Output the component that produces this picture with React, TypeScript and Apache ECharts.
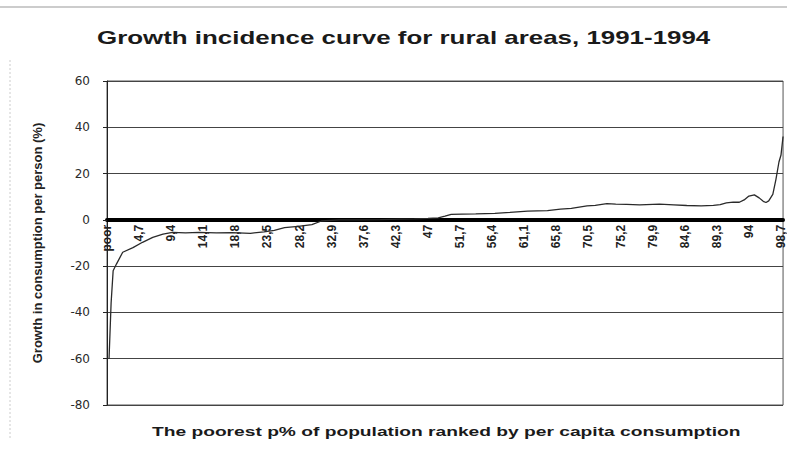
import React, { useEffect, useRef } from "react";
import * as echarts from "echarts";

const titleText = "Growth incidence curve for rural areas, 1991-1994";
const yAxisTitle = "Growth in consumption per person (%)";
const xAxisTitle = "The poorest p% of population ranked by per capita consumption";

// percentile of population (x) and growth in consumption (%) (y)
const percentiles = [
  0.3, 0.6, 0.9, 1.4, 2.3, 3.8, 5.2, 6.7, 8.2, 9.6, 11.5, 13.5, 16, 18.3, 21, 23,
  24.5, 26, 28, 30, 31.4, 34, 37, 40, 43, 45, 47, 48.5, 49.5, 50.4, 52, 54, 56.8,
  59, 61.6, 63, 64.5, 66.4, 68, 70.3, 71.5, 73.2, 74.5, 76.1, 78, 80.9, 83, 84.9,
  87, 88.8, 89.8, 90.7, 91.7, 92.6, 93.3, 94.0, 94.8, 95.5, 96.1, 96.5, 96.9,
  97.5, 97.96, 98.4, 98.7, 99,
];
const growth = [
  -60, -36, -22, -19, -14, -12, -9.7, -7.6, -6.2, -5.4, -5.6, -5.4, -5.6, -5.5,
  -5.8, -5.2, -4.5, -3.4, -2.8, -2.1, -0.5, 0, 0, 0.1, 0.3, 0.4, 0.6, 0.9, 1.6,
  2.4, 2.5, 2.6, 2.8, 3.2, 3.8, 3.9, 4.0, 4.6, 5.0, 6.0, 6.3, 7.0, 6.8, 6.7, 6.5,
  6.8, 6.5, 6.2, 6.0, 6.3, 6.6, 7.3, 7.7, 7.6, 8.6, 10.3, 10.8, 9.5, 8.0, 7.5,
  8.2, 11, 17.5, 25, 28, 36,
];

const xTickStep = 4.7;
const xMin = 0;
const xMax = 99;
const yMin = -80;
const yMax = 60;
const yStep = 20;

export default function App() {
  const ref = useRef<HTMLDivElement>(null);
  useEffect(() => {
    if (!ref.current) return;
    const chart = echarts.init(ref.current, null, { renderer: "svg" });
    const font = "'Liberation Sans', Arial, sans-serif";
    const gridTop = 81;
    const gridBottom = 46;
    const gridHeight = 451 - gridTop - gridBottom;
    const zeroOffset = -((0 - yMin) / (yMax - yMin)) * gridHeight;
    chart.setOption({
      animation: false,
      backgroundColor: "#ffffff",
      grid: {
        left: 107,
        right: 1,
        top: gridTop,
        bottom: gridBottom,
        show: true,
        borderColor: "#555",
        borderWidth: 1,
        backgroundColor: "transparent",
      },
      xAxis: {
        type: "value",
        min: xMin,
        max: xMax,
        interval: xTickStep,
        position: "bottom",
        offset: zeroOffset,
        axisLine: { show: true, onZero: false, lineStyle: { color: "#000", width: 4 } },
        axisTick: { show: false },
        splitLine: { show: false },
        axisLabel: {
          rotate: 90,
          margin: 5,
          showMaxLabel: false,
          fontFamily: font,
          fontSize: 12,
          fontWeight: "bold",
          color: "#222",
          formatter: (v: number) => {
            if (v === 0) return "poor";
            const r = Math.round(v * 10) / 10;
            const s = Number.isInteger(r) ? String(r) : r.toFixed(1);
            return s.replace(".", ",");
          },
        },
      },
      yAxis: {
        type: "value",
        min: yMin,
        max: yMax,
        interval: yStep,
        name: yAxisTitle,
        nameLocation: "middle",
        nameGap: 63,
        nameTextStyle: { fontFamily: font, fontSize: 13, fontWeight: "bold", color: "#222" },
        axisLine: { show: true, lineStyle: { color: "#222", width: 1 } },
        axisTick: { show: true, length: 4, lineStyle: { color: "#222" } },
        splitLine: { show: true, lineStyle: { color: "#444", width: 1 } },
        axisLabel: {
          margin: 17,
          fontFamily: "'DejaVu Sans', sans-serif",
          fontSize: 12,
          color: "#2a2a2a",
        },
      },
      graphic: [
        { type: "line", shape: { x1: 0, y1: 7, x2: 787, y2: 7 }, style: { stroke: "#bbb", lineWidth: 1.5 } },
        { type: "line", shape: { x1: 10, y1: 60, x2: 10, y2: 440 }, style: { stroke: "#ccc", lineWidth: 1, lineDash: [2, 2] } },
        {
          type: "text",
          x: 97,
          y: 38,
          scaleX: 1.44,
          style: {
            text: titleText,
            fontFamily: font,
            fontSize: 18,
            fontWeight: "bold",
            fill: "#1a1a1a",
            textAlign: "left",
            textVerticalAlign: "middle",
          },
        },
        {
          type: "text",
          x: 152,
          y: 432,
          scaleX: 1.6,
          style: {
            text: xAxisTitle,
            fontFamily: font,
            fontSize: 12,
            fontWeight: "bold",
            fill: "#1a1a1a",
            textAlign: "left",
            textVerticalAlign: "middle",
          },
        },
      ],
      series: [
        {
          type: "line",
          data: percentiles.map((p, i) => [p, growth[i]]),
          showSymbol: false,
          lineStyle: { color: "#2a2a2a", width: 1.3 },
          z: 3,
        },
      ],
    });
    return () => chart.dispose();
  }, []);
  return (
    <div
      ref={ref}
      style={{ position: "fixed", left: 0, top: 0, width: 787, height: 451 }}
    />
  );
}
